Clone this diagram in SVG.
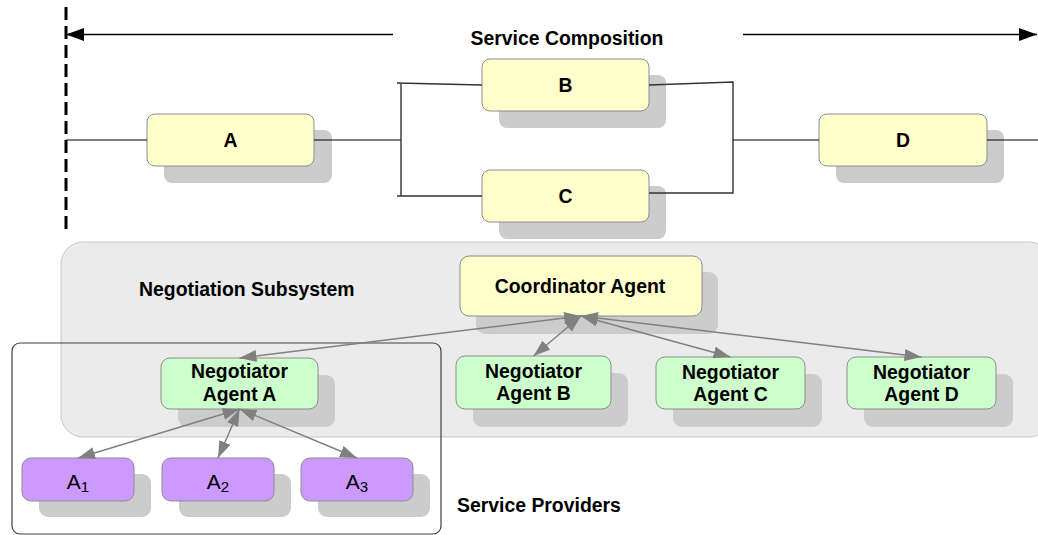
<svg xmlns="http://www.w3.org/2000/svg" width="1038" height="535" viewBox="0 0 1038 535">
  <style>
    text { font-family: "Liberation Sans", Arial, sans-serif; fill: #000; }
    .lbl { font-size: 19.4px; font-weight: bold; text-anchor: middle; }
    .title { font-size: 19.4px; font-weight: bold; }
    .sub { font-size: 21px; text-anchor: middle; }
    .shadow { fill: #cccccc; }
    .svc { fill: #ffffcc; stroke: #8c8c8c; stroke-width: 1; }
    .agent { fill: #ccffcc; stroke: #8c8c8c; stroke-width: 1; }
    .prov { fill: #cc99ff; stroke: #8c8c8c; stroke-width: 1; }
    .wire { stroke: #000; stroke-width: 1.2; fill: none; }
    .bracket { stroke: #333; stroke-width: 1.4; fill: none; }
    .link { stroke: #808080; stroke-width: 1.5; fill: none; marker-start: url(#gray); marker-end: url(#gray); }
  </style>
  <defs>
    <marker id="gray" markerUnits="userSpaceOnUse" viewBox="0 0 17 12" refX="17" refY="6" markerWidth="17" markerHeight="12" orient="auto-start-reverse">
      <path d="M0,0 L17,6 L0,12 Z" fill="#808080"/>
    </marker>
    <marker id="black" markerUnits="userSpaceOnUse" viewBox="0 0 18 13" refX="18" refY="6.5" markerWidth="18" markerHeight="13" orient="auto">
      <path d="M0,0 L18,6.5 L0,13 Z" fill="#000"/>
    </marker>
  </defs>

  <!-- negotiation subsystem container -->
  <g id="negotiation-subsystem">
    <rect x="61" y="242" width="990" height="195" rx="22" fill="#ebebeb" stroke="#c8c8c8" stroke-width="1"/>
    <text class="title" x="139" y="296">Negotiation Subsystem</text>
  </g>

  <!-- service providers frame -->
  <g id="service-providers">
    <rect x="12" y="343" width="429" height="191" rx="8" fill="none" stroke="#404040" stroke-width="1.2"/>
    <text class="title" x="457" y="512">Service Providers</text>
  </g>

  <!-- composition boundary and span arrows -->
  <g id="service-composition">
    <line x1="66" y1="7" x2="66" y2="229" stroke="#000" stroke-width="3" stroke-dasharray="13 6"/>
    <line x1="393" y1="34.5" x2="66" y2="34.5" stroke="#000" stroke-width="1.4" marker-end="url(#black)"/>
    <line x1="743" y1="34.5" x2="1037" y2="34.5" stroke="#000" stroke-width="1.4" marker-end="url(#black)"/>
    <text class="lbl" x="567" y="45">Service Composition</text>
  </g>

  <!-- services -->
  <g id="service-a">
    <rect class="shadow" x="164" y="130" width="168" height="53" rx="8"/>
    <rect class="svc" x="147" y="114" width="167" height="52" rx="8"/>
    <text class="lbl" x="230.5" y="147">A</text>
  </g>
  <g id="service-b">
    <rect class="shadow" x="499" y="75" width="167" height="53" rx="8"/>
    <rect class="svc" x="482" y="59" width="167" height="52" rx="8"/>
    <text class="lbl" x="565.5" y="92">B</text>
  </g>
  <g id="service-c">
    <rect class="shadow" x="499" y="186" width="167" height="53" rx="8"/>
    <rect class="svc" x="482" y="170" width="167" height="52" rx="8"/>
    <text class="lbl" x="565.5" y="203">C</text>
  </g>
  <g id="service-d">
    <rect class="shadow" x="836" y="130" width="168" height="53" rx="8"/>
    <rect class="svc" x="819" y="114" width="168" height="52" rx="8"/>
    <text class="lbl" x="903" y="147">D</text>
  </g>

  <!-- agents -->
  <g id="coordinator-agent">
    <rect class="shadow" x="476" y="272" width="242" height="62" rx="9"/>
    <rect class="svc" x="460" y="256" width="242" height="60" rx="9"/>
    <text class="lbl" x="580" y="293">Coordinator Agent</text>
  </g>
  <g id="negotiator-a">
    <rect class="shadow" x="178" y="375" width="157" height="52" rx="9"/>
    <rect class="agent" x="161" y="358" width="157" height="51" rx="9"/>
    <text class="lbl" x="239.5" y="378">Negotiator</text>
    <text class="lbl" x="239.5" y="401">Agent A</text>
  </g>
  <g id="negotiator-b">
    <rect class="shadow" x="473" y="373" width="155" height="54" rx="9"/>
    <rect class="agent" x="456" y="356" width="155" height="53" rx="9"/>
    <text class="lbl" x="533.5" y="378">Negotiator</text>
    <text class="lbl" x="533.5" y="400">Agent B</text>
  </g>
  <g id="negotiator-c">
    <rect class="shadow" x="673" y="374" width="149" height="53" rx="9"/>
    <rect class="agent" x="656" y="357" width="149" height="52" rx="9"/>
    <text class="lbl" x="730.5" y="379">Negotiator</text>
    <text class="lbl" x="730.5" y="401">Agent C</text>
  </g>
  <g id="negotiator-d">
    <rect class="shadow" x="864" y="374" width="149" height="53" rx="9"/>
    <rect class="agent" x="847" y="357" width="149" height="52" rx="9"/>
    <text class="lbl" x="921.5" y="379">Negotiator</text>
    <text class="lbl" x="921.5" y="401">Agent D</text>
  </g>

  <!-- providers -->
  <g id="provider-a1">
    <rect class="shadow" x="39" y="474" width="112" height="43" rx="9"/>
    <rect class="prov" x="22" y="458" width="112" height="43" rx="9"/>
    <text class="sub" x="78" y="489">A<tspan font-size="15" dy="2.5">1</tspan></text>
  </g>
  <g id="provider-a2">
    <rect class="shadow" x="179" y="474" width="112" height="43" rx="9"/>
    <rect class="prov" x="162" y="458" width="112" height="43" rx="9"/>
    <text class="sub" x="218" y="489">A<tspan font-size="15" dy="2.5">2</tspan></text>
  </g>
  <g id="provider-a3">
    <rect class="shadow" x="318" y="474" width="112" height="43" rx="9"/>
    <rect class="prov" x="301" y="458" width="112" height="43" rx="9"/>
    <text class="sub" x="357" y="489">A<tspan font-size="15" dy="2.5">3</tspan></text>
  </g>

  <!-- connectors -->
  <g id="connectors">
    <!-- service flow -->
    <line class="wire" x1="66" y1="140" x2="147" y2="140"/>
    <line class="wire" x1="314" y1="140" x2="401" y2="140"/>
    <polyline class="bracket" points="482,85 397,83 401,83 401,196 397,196 482,196"/>
    <polyline class="bracket" points="649,85 733,82 733,193 649,193"/>
    <line class="wire" x1="733" y1="140" x2="819" y2="140"/>
    <line class="wire" x1="987" y1="140" x2="1038" y2="140"/>
    <!-- coordinator to negotiators -->
    <line class="link" x1="581" y1="316" x2="239.5" y2="358"/>
    <line class="link" x1="581" y1="316" x2="533.5" y2="356"/>
    <line class="link" x1="581" y1="316" x2="730.5" y2="357"/>
    <line class="link" x1="581" y1="316" x2="921.5" y2="357"/>
    <!-- negotiator A to providers -->
    <line class="link" x1="239.5" y1="409" x2="78" y2="458"/>
    <line class="link" x1="239.5" y1="409" x2="218" y2="458"/>
    <line class="link" x1="239.5" y1="409" x2="357" y2="458"/>
  </g>
</svg>
